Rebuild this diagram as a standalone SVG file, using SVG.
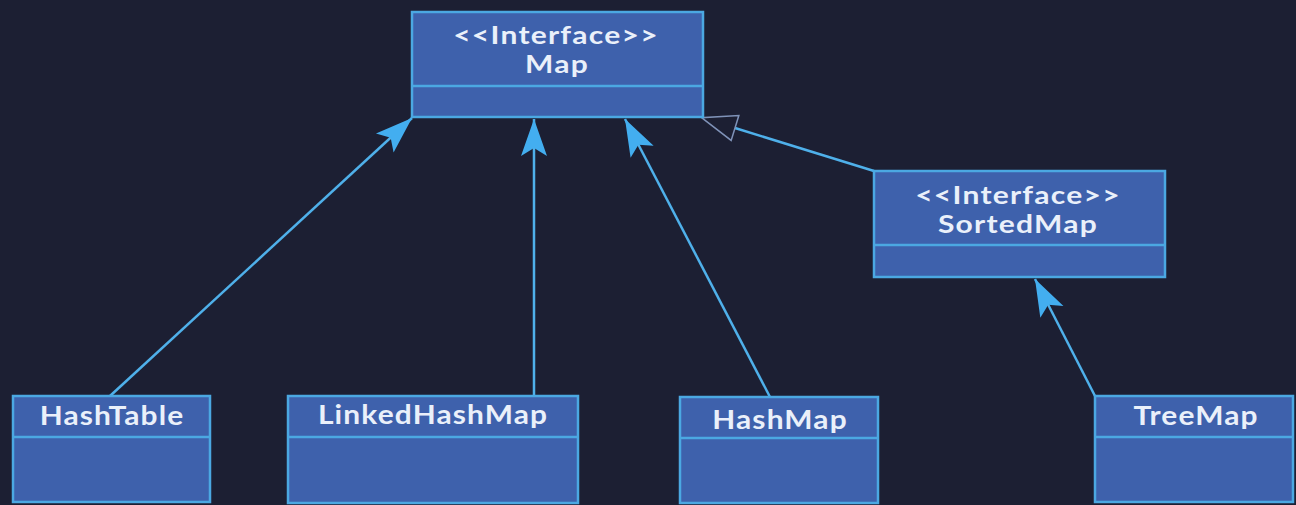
<svg xmlns="http://www.w3.org/2000/svg" width="1296" height="505" viewBox="0 0 1296 505">
  <style>
    .box { fill: #3e61ac; stroke: #4ba8e2; stroke-width: 2.5; }
    .div { stroke: #4ba8e2; stroke-width: 2.5; }
    .lbl { font-family: Lato, "Open Sans", sans-serif; font-weight: bold; fill: #eaf0fa; text-anchor: middle; }
    .big { font-size: 26px; letter-spacing: 1px; }
    .sm { font-size: 24px; letter-spacing: 1px; }
    .edge { stroke: #4fb0ea; stroke-width: 2.5; fill: none; }
  </style>
  <defs>
    <marker id="arrow" markerUnits="userSpaceOnUse" markerWidth="40" markerHeight="30" viewBox="-38 -15 40 30" refX="0" refY="0" orient="auto">
      <path d="M0,0 L-37,-13 L-29,0 L-37,13 Z" fill="#43aef0"/>
    </marker>
    <marker id="tri" markerUnits="userSpaceOnUse" markerWidth="40" markerHeight="30" viewBox="-2 -15 40 30" refX="0" refY="0" orient="auto">
      <path d="M35,0 L0,-13 L0,13 Z" fill="#1c1f33" stroke="#7f92b8" stroke-width="1.5"/>
    </marker>
  </defs>
  <rect width="1296" height="505" fill="#1c1f33"/>

  <g id="connectors">
    <line class="edge" x1="110" y1="396" x2="412" y2="118" marker-end="url(#arrow)"/>
    <line class="edge" x1="534" y1="396" x2="534" y2="119" marker-end="url(#arrow)"/>
    <line class="edge" x1="770" y1="397" x2="625" y2="119" marker-end="url(#arrow)"/>
    <line class="edge" x1="1095" y1="396" x2="1035" y2="279" marker-end="url(#arrow)"/>
    <line class="edge" x1="874" y1="171" x2="735" y2="128" marker-end="url(#tri)"/>
  </g>

  <g id="map">
    <rect class="box" x="412" y="12" width="291" height="105"/>
    <line class="div" x1="412" y1="86" x2="703" y2="86"/>
    <text class="lbl sm" transform="translate(556 44) scale(1.25 1)">&lt;&lt;Interface&gt;&gt;</text>
    <text class="lbl sm" transform="translate(557 73) scale(1.25 1)">Map</text>
  </g>

  <g id="sortedmap">
    <rect class="box" x="874" y="171" width="291" height="106"/>
    <line class="div" x1="874" y1="245" x2="1165" y2="245"/>
    <text class="lbl sm" transform="translate(1018 204) scale(1.25 1)">&lt;&lt;Interface&gt;&gt;</text>
    <text class="lbl sm" transform="translate(1018 233) scale(1.25 1)">SortedMap</text>
  </g>

  <g id="hashtable">
    <rect class="box" x="13" y="396" width="197" height="106"/>
    <line class="div" x1="13" y1="437" x2="210" y2="437"/>
    <text class="lbl big" transform="translate(112 425) scale(1.15 1)">HashTable</text>
  </g>

  <g id="linkedhashmap">
    <rect class="box" x="288" y="396" width="290" height="107"/>
    <line class="div" x1="288" y1="437" x2="578" y2="437"/>
    <text class="lbl big" transform="translate(433 424) scale(1.15 1)">LinkedHashMap</text>
  </g>

  <g id="hashmap">
    <rect class="box" x="680" y="397" width="198" height="106"/>
    <line class="div" x1="680" y1="438" x2="878" y2="438"/>
    <text class="lbl big" transform="translate(780 429) scale(1.15 1)">HashMap</text>
  </g>

  <g id="treemap">
    <rect class="box" x="1095" y="396" width="198" height="106"/>
    <line class="div" x1="1095" y1="437" x2="1293" y2="437"/>
    <text class="lbl big" transform="translate(1196 425) scale(1.15 1)">TreeMap</text>
  </g>
</svg>
